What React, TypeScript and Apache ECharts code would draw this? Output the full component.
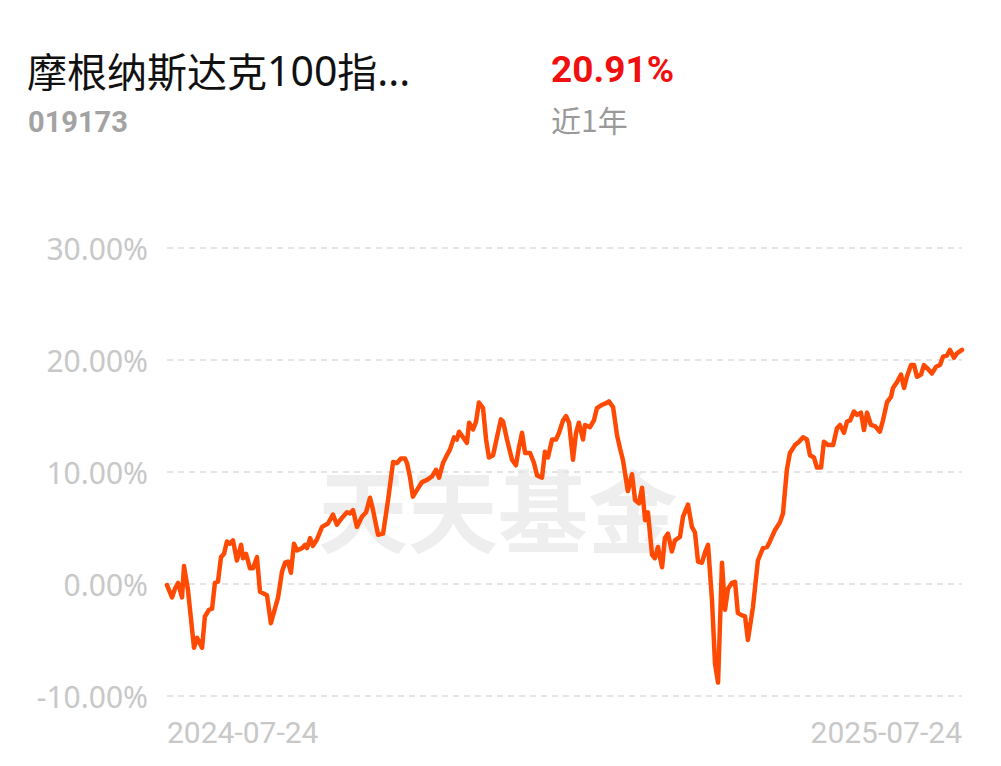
import React, { useEffect, useRef } from "react";
import * as echarts from "echarts";

const days: number[] = [
  0, 2.3, 3.7, 5.1, 6.9, 7.8, 9.6, 12.4, 13.8, 16.1, 17.4, 19.3, 20.7, 22.0, 23.4, 24.8, 26.2, 27.5, 28.9, 30.3,
  32.1, 34.0, 34.9, 36.3, 38.1, 39.5, 41.3, 42.7, 45.9, 47.7, 51.0, 52.8, 54.2, 55.6, 56.9, 58.3, 59.7, 62.0, 63.4, 64.3,
  65.7, 67.0, 68.9, 71.2, 73.9, 76.2, 78.0, 80.3, 82.6, 84.0, 85.4, 87.2, 89.5, 91.4, 93.2, 94.6, 96.9, 99.2, 101.5, 103.8,
  105.6, 107.4, 109.3, 110.2, 111.6, 112.9, 114.8, 117.1, 119.4, 121.7, 123.5, 124.9, 126.7, 128.5, 129.9, 131.8, 133.1, 134.1, 135.9, 137.7,
  138.7, 140.5, 141.9, 143.2, 145.1, 146.5, 147.8, 149.7, 151.5, 153.3, 154.3, 156.1, 158.4, 160.2, 161.6, 163.0, 164.4, 166.7, 168.5, 169.9,
  172.2, 173.5, 174.9, 176.8, 178.6, 180.0, 181.8, 183.2, 184.6, 186.4, 187.8, 189.1, 191.0, 191.9, 194.2, 196.0, 197.4, 199.7, 201.1, 202.9,
  204.8, 206.6, 208.0, 209.3, 211.6, 213.5, 214.9, 216.7, 218.1, 219.5, 220.8, 222.7, 224.0, 225.4, 227.3, 228.6, 230.0, 231.8, 233.2, 235.5,
  236.9, 239.2, 241.0, 242.4, 243.8, 245.6, 247.0, 248.4, 250.2, 251.6, 253.0, 254.8, 256.2, 257.6, 259.4, 260.8, 262.1, 264.0, 265.4, 266.7,
  269.0, 271.3, 273.6, 275.5, 276.8, 279.1, 281.4, 282.8, 284.6, 286.0, 288.3, 290.2, 292.0, 293.8, 295.2, 297.0, 298.4, 300.3, 301.6, 303.5,
  305.8, 307.6, 309.0, 310.8, 312.2, 313.6, 315.4, 316.8, 318.6, 320.0, 321.4, 323.2, 325.0, 327.3, 328.7, 330.6, 332.4, 333.3, 335.1, 337.0,
  338.4, 339.7, 341.6, 343.0, 344.3, 346.2, 347.5, 349.4, 351.2, 353.1, 354.9, 356.3, 358.1, 359.5, 361.3, 362.7, 365.0,
];

// Cumulative return, %
const returns: number[] = [
  -0.1, -1.2, -0.4, 0.1, -1.2, 1.6, -0.5, -5.7, -4.8, -5.7, -2.9, -2.3, -2.2, 0.1, 0.2, 2.4, 2.7, 3.8, 3.6, 3.9,
  2.1, 3.5, 2.3, 2.7, 1.4, 1.4, 2.4, -0.7, -1.0, -3.5, -1.2, 1.1, 1.9, 2.0, 1.0, 3.6, 3.0, 3.2, 3.5, 3.2,
  4.1, 3.4, 4.0, 5.1, 5.4, 6.2, 5.3, 5.9, 6.4, 6.3, 6.6, 5.1, 6.0, 6.4, 7.7, 6.6, 4.4, 4.5, 7.5, 10.9,
  10.8, 11.2, 11.2, 10.8, 9.5, 7.8, 8.4, 9.1, 9.3, 9.6, 10.2, 9.5, 10.8, 11.5, 12.0, 13.1, 12.9, 13.6, 13.1, 12.6,
  14.4, 13.8, 14.5, 16.2, 15.7, 12.9, 11.3, 11.5, 13.1, 14.7, 14.5, 12.9, 11.1, 10.6, 12.2, 13.5, 11.7, 11.7, 10.8, 9.7,
  9.5, 11.8, 11.3, 12.9, 12.9, 13.5, 14.6, 15.0, 14.4, 11.1, 13.5, 14.4, 12.9, 14.2, 14.0, 14.6, 15.7, 16.0, 16.1, 16.3,
  15.8, 13.3, 12.1, 11.1, 8.3, 9.8, 7.5, 7.2, 8.6, 5.7, 6.4, 2.6, 2.3, 3.3, 1.5, 4.1, 4.5, 2.9, 3.9, 4.2,
  6.0, 7.1, 5.1, 4.6, 2.0, 1.9, 2.8, 3.5, -1.4, -7.1, -8.8, 1.9, -2.3, -0.4, 0.1, 0.2, -2.6, -2.8, -2.9, -5.0,
  -2.1, 2.1, 3.2, 3.3, 3.8, 4.8, 5.5, 6.3, 10.2, 11.7, 12.4, 12.7, 13.1, 12.9, 11.5, 11.3, 10.4, 10.4, 12.7, 12.4,
  12.4, 13.9, 14.2, 13.5, 14.5, 14.6, 15.4, 15.1, 15.3, 13.75, 15.3, 14.2, 14.1, 13.6, 14.6, 16.25, 16.7, 17.5, 18.0, 18.7,
  17.5, 18.5, 19.55, 19.55, 18.5, 18.7, 19.55, 19.2, 18.8, 19.4, 19.55, 20.3, 20.4, 20.9, 20.2, 20.6, 20.91,
];

const startLabel = "2024-07-24";
const endLabel = "2025-07-24";
const yTicks = { min: -10, max: 30, interval: 10 };

const fundNameParts = ["摩根纳斯达克", "100", "指", "..."];
const fundCode = "019173";
const periodReturn = "20.91%";
const periodName = "近1年";

export default function App() {
  const ref = useRef<HTMLDivElement>(null);

  useEffect(() => {
    document.body.style.margin = "0";
    if (!ref.current) return;
    const chart = echarts.init(ref.current, undefined, { renderer: "svg" });
    const data = days.map((d, i) => [d, returns[i]]);
    const titleText =
      `{c|${fundNameParts[0]}}{l|${fundNameParts[1]}}{c|${fundNameParts[2]}}{l|${fundNameParts[3]}}`;
    chart.setOption({
      animation: false,
      backgroundColor: "#ffffff",
      grid: { left: 167, right: 39, top: 248, bottom: 70, containLabel: false },
      graphic: [
        {
          type: "text",
          left: 27,
          top: 49,
          style: {
            text: titleText,
            rich: {
              c: { fontSize: 40, fontFamily: "'Noto Sans CJK SC', sans-serif", fill: "#111111", lineHeight: 48 },
              l: { fontSize: 41, fontFamily: "'Noto Sans', sans-serif", fill: "#111111", lineHeight: 48 },
            },
          },
        },
        {
          type: "text",
          left: 28,
          top: 107,
          style: { text: fundCode, font: "bold 29px Roboto, sans-serif", fill: "#a3a3a3" },
        },
        {
          type: "text",
          left: 551,
          top: 51,
          style: { text: periodReturn, font: "bold 37px Roboto, sans-serif", fill: "#f01010" },
        },
        {
          type: "text",
          left: 551,
          top: 104,
          style: { text: periodName, font: "30px 'Noto Sans CJK SC', sans-serif", fill: "#9a9a9a" },
        },
        {
          type: "text",
          left: 318,
          top: 462,
          z: -10,
          silent: true,
          style: {
            text: "天天基金",
            font: "bold 90px 'Noto Sans CJK SC', sans-serif",
            fill: "#eeeeee",
          },
        },
      ],
      xAxis: {
        type: "value",
        min: 0,
        max: 365,
        interval: 365,
        axisLine: { show: false },
        axisTick: { show: false },
        splitLine: { show: false },
        axisLabel: {
          color: "#c8c8c8",
          fontSize: 30,
          fontFamily: "Roboto, sans-serif",
          margin: 21,
          alignMinLabel: "left",
          alignMaxLabel: "right",
          formatter: (v: number) => (v === 0 ? startLabel : v === 365 ? endLabel : ""),
        },
      },
      yAxis: {
        type: "value",
        min: yTicks.min,
        max: yTicks.max,
        interval: yTicks.interval,
        axisLine: { show: false },
        axisTick: { show: false },
        splitLine: {
          show: true,
          lineStyle: { color: "#e4e4e4", width: 2, type: [6, 5] },
        },
        axisLabel: {
          color: "#c8c8c8",
          fontSize: 30,
          fontFamily: "'Noto Sans', sans-serif",
          margin: 19,
          formatter: (v: number) => v.toFixed(2) + "%",
        },
      },
      series: [
        {
          type: "line",
          data,
          showSymbol: false,
          symbol: "none",
          smooth: false,
          lineStyle: { color: "#ff4a03", width: 4.5, join: "round", cap: "round" },
          z: 5,
        },
      ],
    });
    return () => chart.dispose();
  }, []);

  return (
    <div
      ref={ref}
      style={{ position: "absolute", left: 0, top: 0, width: 1001, height: 766, background: "#fff" }}
    />
  );
}
